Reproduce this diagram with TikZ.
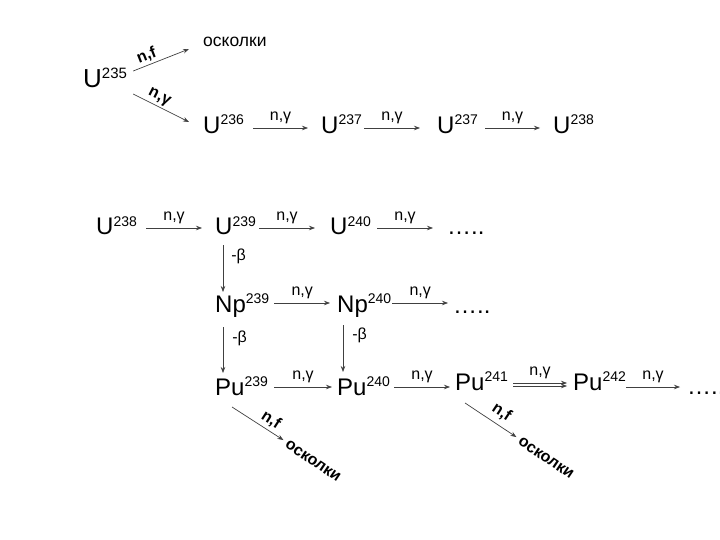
\documentclass[tikz,border=0pt]{standalone}
\usepackage{fontspec}
\setmainfont{Liberation Sans}
\usetikzlibrary{arrows.meta}
\newcommand\isup[1]{\raisebox{9pt}{\fontsize{14}{14}\selectfont #1}}
\begin{document}
\begin{tikzpicture}[x=1pt,y=-1pt,
  iso/.style={inner sep=0pt, anchor=base west, font=\fontsize{24}{24}\selectfont},
  lab/.style={inner sep=0pt, font=\fontsize{16}{16}\selectfont},
  blab/.style={inner sep=0pt, font=\bfseries\fontsize{16}{16}\selectfont},
  arr/.style={draw=black!75, line width=0.7pt, -{Stealth[length=6pt,width=4.5pt]}},
]
\useasboundingbox (0,0) rectangle (720,540);

% row 1
\node[iso, font=\fontsize{26}{26}\selectfont] (u235) at (83,88) {U\raisebox{9.5pt}{\fontsize{15}{15}\selectfont 235}};
\node[inner sep=0pt, anchor=base west, font=\fontsize{17.5}{17.5}\selectfont] (frag1) at (203,47) {осколки};
\node[iso] (u236) at (203,134) {U\isup{236}};
\node[iso] (u237a) at (321,134) {U\isup{237}};
\node[iso] (u237b) at (437,134) {U\isup{237}};
\node[iso] (u238a) at (553,134) {U\isup{238}};

% row 2
\node[iso] (u238b) at (96,235) {U\isup{238}};
\node[iso] (u239) at (215,235) {U\isup{239}};
\node[iso] (u240) at (330,235) {U\isup{240}};
\node[iso] (dots1) at (447,235) {…..};

% row 3
\node[iso] (np239) at (215,312) {Np\isup{239}};
\node[iso] (np240) at (337,312) {Np\isup{240}};
\node[iso] (dots2) at (453,313) {…..};

% row 4
\node[iso] (pu239) at (215,395) {Pu\isup{239}};
\node[iso] (pu240) at (337,395) {Pu\isup{240}};
\node[iso] (pu241) at (455,390) {Pu\isup{241}};
\node[iso] (pu242) at (573,390) {Pu\isup{242}};
\node[iso] (dots3) at (687,394) {…..};

\node[blab, rotate=-34] (frag2) at (313,461) {осколки};
\node[blab, rotate=-34] (frag3) at (546,458) {осколки};

% row 1 arrows
\draw[arr] ([shift={(6,-17)}]u235.base east) -- node[blab, sloped, pos=0.3, above=2pt] {n,f} ([shift={(-14,2)}]frag1.base west);
\draw[arr] ([shift={(6,6)}]u235.base east) -- node[blab, sloped, pos=0.4, above=2pt] {n,γ} ([shift={(-14,-12)}]u236.base west);
\draw[arr] ([shift={(9,-6)}]u236.base east) -- node[lab, above=4pt] {n,γ} ([shift={(-13,-6)}]u237a.base west);
\draw[arr] ([shift={(2,-6)}]u237a.base east) -- node[lab, above=4pt] {n,γ} ([shift={(-17,-6)}]u237b.base west);
\draw[arr] ([shift={(7,-6)}]u237b.base east) -- node[lab, above=4pt] {n,γ} ([shift={(-13,-6)}]u238a.base west);

% row 2 arrows
\draw[arr] ([shift={(9,-7)}]u238b.base east) -- node[lab, above=4pt] {n,γ} ([shift={(-13,-7)}]u239.base west);
\draw[arr] ([shift={(3,-7)}]u239.base east) -- node[lab, above=4pt] {n,γ} ([shift={(-15,-7)}]u240.base west);
\draw[arr] ([shift={(6,-7)}]u240.base east) -- node[lab, above=4pt] {n,γ} ([shift={(-14,-7)}]dots1.base west);

% vertical arrows
\draw[arr] ([shift={(8,10)}]u239.base west) -- node[lab, pos=0.25, anchor=west, xshift=8pt] {-β} ([shift={(8,-20)}]np239.base west);
\draw[arr] ([shift={(8,15)}]np239.base west) -- node[lab, pos=0.24, anchor=west, xshift=9pt] {-β} ([shift={(8,-22)}]pu239.base west);
\draw[arr] ([shift={(6,13)}]np240.base west) -- node[lab, pos=0.23, anchor=west, xshift=9pt] {-β} ([shift={(6,-23)}]pu240.base west);

% row 3 arrows
\draw[arr] ([shift={(5,-9)}]np239.base east) -- node[lab, above=4pt] {n,γ} ([shift={(-7,-9)}]np240.base west);
\draw[arr] ([shift={(1,-9)}]np240.base east) -- node[lab, above=4pt] {n,γ} ([shift={(-5,-10)}]dots2.base west);

% row 4 arrows
\draw[arr] ([shift={(6,-8)}]pu239.base east) -- node[lab, above=4pt] {n,γ} ([shift={(-5,-8)}]pu240.base west);
\draw[arr] ([shift={(4,-8)}]pu240.base east) -- node[lab, above=4pt] {n,γ} ([shift={(-5,-3)}]pu241.base west);
\draw[arr] ([shift={(5,-7)}]pu241.base east) -- node[lab, above=4pt] {n,γ} ([shift={(-6,-7)}]pu242.base west);
\draw[arr] ([shift={(5,-4)}]pu241.base east) -- ([shift={(-6,-4)}]pu242.base west);
\draw[arr] ([shift={(0,-3)}]pu242.base east) -- node[lab, above=4pt] {n,γ} ([shift={(-7,-7)}]dots3.base west);

% fission arrows
\draw[arr] ([shift={(17,12)}]pu239.base west) -- node[blab, sloped, pos=0.65, above=3pt] {n,f} ([shift={(-3,-3)}]frag2.west);
\draw[arr] ([shift={(10,13)}]pu241.base west) -- node[blab, sloped, pos=0.58, above=5pt] {n,f} ([shift={(-3,-3)}]frag3.west);
\end{tikzpicture}
\end{document}
